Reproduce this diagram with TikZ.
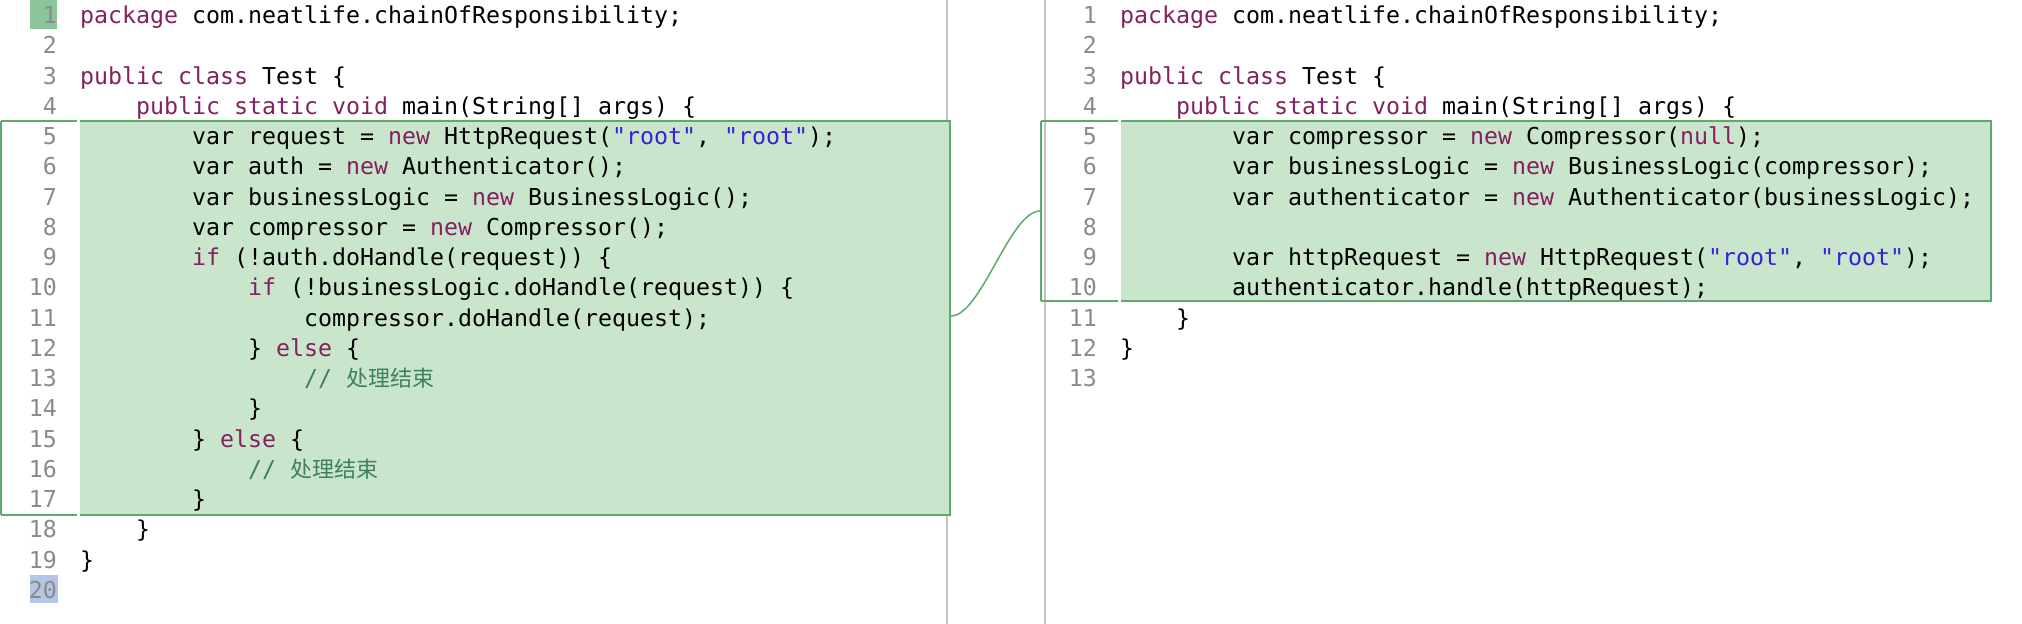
\documentclass[tikz,border=0pt]{standalone}
\usepackage{fontspec}
\newfontfamily\codefont{DejaVu Sans Mono}
\newfontfamily\cjkfont{Noto Sans CJK SC}
\definecolor{kwc}{HTML}{842060}
\definecolor{strc}{HTML}{3A1ED8}
\definecolor{cmc}{HTML}{3F7F5F}
\definecolor{hunkfill}{HTML}{C9E6CD}
\definecolor{hunkline}{HTML}{5DAA6B}
\definecolor{numc}{HTML}{8A8A8A}
\definecolor{curgreen}{HTML}{8CC59A}
\definecolor{curblue}{HTML}{B3C6E7}
\definecolor{divc}{HTML}{C4C4C4}
\newcommand\ckw[1]{\textcolor{kwc}{#1}}
\newcommand\cstr[1]{\textcolor{strc}{#1}}
\newcommand\ccm[1]{\textcolor{cmc}{#1}}
\newcommand\zh[1]{{\cjkfont\fontsize{22}{24}\selectfont #1}}
\def\cw{14}
\def\lp{30.25}
\def\bl{23.5}
\begin{document}
\begin{tikzpicture}[x=1pt,y=-1pt,
  code/.style={anchor=base west,inner sep=0pt,font=\codefont\fontsize{23.25}{28}\selectfont},
  lnum/.style={anchor=base east,inner sep=0pt,text=numc,font=\codefont\fontsize{23.25}{28}\selectfont},
  hunkborder/.style={draw=hunkline,line width=2pt},
  divider/.style={draw=divc,line width=2pt},
  link/.style={draw=hunkline,line width=1.5pt}]
\useasboundingbox[fill=white] (0,0) rectangle (2022,624);
% dividers
\draw[divider] (947,0) -- (947,624);
\draw[divider] (1045,0) -- (1045,624);
% current-line highlights
\fill[curgreen] (30,0) rectangle (57,29);
\fill[curblue] (30,575) rectangle (58,603);
% left hunk
\fill[hunkfill] (80,121) rectangle (950,515);
\draw[hunkborder] (1,121) -- (77,121);
\draw[hunkborder] (1,515) -- (77,515);
\draw[hunkborder] (1,121) -- (1,515);
\draw[hunkborder] (80,121) -- (950,121) -- (950,515) -- (80,515);
% right hunk
\fill[hunkfill] (1121,121) rectangle (1991,301);
\draw[hunkborder] (1041,121) -- (1118,121);
\draw[hunkborder] (1041,301) -- (1118,301);
\draw[hunkborder] (1041,121) -- (1041,301);
\draw[hunkborder] (1121,121) -- (1991,121) -- (1991,301) -- (1121,301);
% connector
\coordinate (cL) at (951,316);
\coordinate (cR) at (1040,211);
\draw[link] (cL) .. controls (981,316) and (1010,211) .. (cR);
% left line numbers
\foreach \n in {1,...,20} {
  \node[lnum] (ln\n) at (57,{\bl+(\n-1)*\lp}) {\n};
}
% right line numbers
\foreach \n in {1,...,13} {
  \node[lnum] (rn\n) at (1097,{\bl+(\n-1)*\lp}) {\n};
}
% left code
\node[code] (a1) at ({80+0*\cw},{\bl+0*\lp}) {\ckw{package} com.neatlife.chainOfResponsibility;};
\node[code] (a3) at ({80+0*\cw},{\bl+2*\lp}) {\ckw{public} \ckw{class} Test \{};
\node[code] (a4) at ({80+4*\cw},{\bl+3*\lp}) {\ckw{public} \ckw{static} \ckw{void} main(String[] args) \{};
\node[code] (a5) at ({80+8*\cw},{\bl+4*\lp}) {var request = \ckw{new} HttpRequest(\cstr{"root"}, \cstr{"root"});};
\node[code] (a6) at ({80+8*\cw},{\bl+5*\lp}) {var auth = \ckw{new} Authenticator();};
\node[code] (a7) at ({80+8*\cw},{\bl+6*\lp}) {var businessLogic = \ckw{new} BusinessLogic();};
\node[code] (a8) at ({80+8*\cw},{\bl+7*\lp}) {var compressor = \ckw{new} Compressor();};
\node[code] (a9) at ({80+8*\cw},{\bl+8*\lp}) {\ckw{if} (!auth.doHandle(request)) \{};
\node[code] (a10) at ({80+12*\cw},{\bl+9*\lp}) {\ckw{if} (!businessLogic.doHandle(request)) \{};
\node[code] (a11) at ({80+16*\cw},{\bl+10*\lp}) {compressor.doHandle(request);};
\node[code] (a12) at ({80+12*\cw},{\bl+11*\lp}) {\} \ckw{else} \{};
\node[code] (a13) at ({80+16*\cw},{\bl+12*\lp}) {\ccm{// \zh{处理结束}}};
\node[code] (a14) at ({80+12*\cw},{\bl+13*\lp}) {\}};
\node[code] (a15) at ({80+8*\cw},{\bl+14*\lp}) {\} \ckw{else} \{};
\node[code] (a16) at ({80+12*\cw},{\bl+15*\lp}) {\ccm{// \zh{处理结束}}};
\node[code] (a17) at ({80+8*\cw},{\bl+16*\lp}) {\}};
\node[code] (a18) at ({80+4*\cw},{\bl+17*\lp}) {\}};
\node[code] (a19) at ({80+0*\cw},{\bl+18*\lp}) {\}};
% right code
\node[code] (b1) at ({1120+0*\cw},{\bl+0*\lp}) {\ckw{package} com.neatlife.chainOfResponsibility;};
\node[code] (b3) at ({1120+0*\cw},{\bl+2*\lp}) {\ckw{public} \ckw{class} Test \{};
\node[code] (b4) at ({1120+4*\cw},{\bl+3*\lp}) {\ckw{public} \ckw{static} \ckw{void} main(String[] args) \{};
\node[code] (b5) at ({1120+8*\cw},{\bl+4*\lp}) {var compressor = \ckw{new} Compressor(\ckw{null});};
\node[code] (b6) at ({1120+8*\cw},{\bl+5*\lp}) {var businessLogic = \ckw{new} BusinessLogic(compressor);};
\node[code] (b7) at ({1120+8*\cw},{\bl+6*\lp}) {var authenticator = \ckw{new} Authenticator(businessLogic);};
\node[code] (b9) at ({1120+8*\cw},{\bl+8*\lp}) {var httpRequest = \ckw{new} HttpRequest(\cstr{"root"}, \cstr{"root"});};
\node[code] (b10) at ({1120+8*\cw},{\bl+9*\lp}) {authenticator.handle(httpRequest);};
\node[code] (b11) at ({1120+4*\cw},{\bl+10*\lp}) {\}};
\node[code] (b12) at ({1120+0*\cw},{\bl+11*\lp}) {\}};
\end{tikzpicture}
\end{document}
